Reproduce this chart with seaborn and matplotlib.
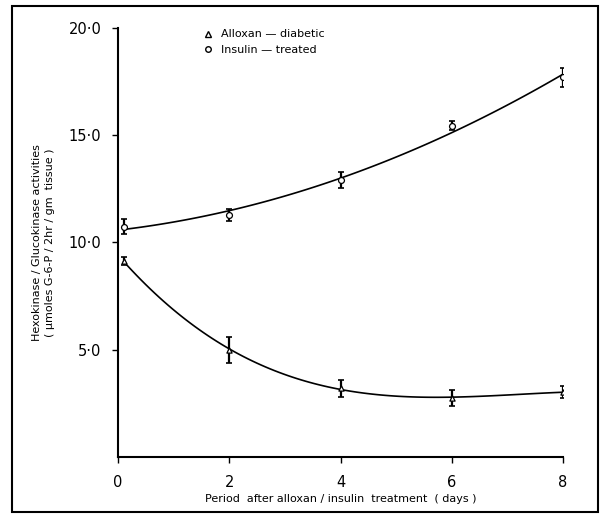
import numpy as np
import pandas as pd
import matplotlib
matplotlib.use("Agg")
import matplotlib.pyplot as plt
import seaborn as sns
from matplotlib.patches import Rectangle
from matplotlib.lines import Line2D

sns.set_theme(style="white")
plt.rcParams['font.family'] = ['DejaVu Sans']
plt.rcParams['text.color'] = 'black'
plt.rcParams['axes.labelcolor'] = 'black'
plt.rcParams['xtick.color'] = 'black'
plt.rcParams['ytick.color'] = 'black'

# ---- data ----
days = [0.1, 2, 4, 6, 8]
alloxan = [9.13, 5.0, 3.21, 2.75, 3.03]
alloxan_err = [0.2, 0.6, 0.4, 0.37, 0.3]
insulin = [10.73, 11.28, 12.9, 15.45, 17.7]
insulin_err = [0.35, 0.27, 0.37, 0.2, 0.45]
xticks = [0, 2, 4, 6, 8]
yticks = [5, 10, 15, 20]
ytick_labels = ["5·0", "10·0", "15·0", "20·0"]
series_names = ["Alloxan — diabetic", "Insulin — treated"]
fit_orders = [3, 2]

df = pd.DataFrame({"day": days * 2,
                   "value": alloxan + insulin,
                   "err": alloxan_err + insulin_err,
                   "group": [series_names[0]] * len(days) + [series_names[1]] * len(days)})

W, H = 604, 518
fig = plt.figure(figsize=(W / 100, H / 100), dpi=100)
ax = fig.add_axes([118 / W, 1 - 457 / H, (563 - 118) / W, (457 - 28) / H])

# fitted smooth curves
for name, order in zip(series_names, fit_orders):
    sub = df[df.group == name]
    sns.regplot(data=sub, x="day", y="value", order=order, ci=None, scatter=False,
                truncate=True, ax=ax, line_kws=dict(color="black", lw=1.2))

# error bars
for name in series_names:
    sub = df[df.group == name]
    ax.errorbar(sub.day, sub.value, yerr=sub.err, fmt="none", ecolor="black",
                elinewidth=1.6, capsize=2, capthick=1.2, zorder=3)

# markers
sns.scatterplot(data=df[df.group == series_names[0]], x="day", y="value", marker="^",
                s=14, facecolor="white", edgecolor="black", linewidth=0.9, ax=ax, zorder=4,
                legend=False)
sns.scatterplot(data=df[df.group == series_names[1]], x="day", y="value", marker="o",
                s=18, facecolor="white", edgecolor="black", linewidth=0.9, ax=ax, zorder=4,
                legend=False)

ax.set_xlim(0, 8)
ax.set_ylim(0, 20)
ax.set_xticks(xticks)
ax.set_xticklabels([str(t) for t in xticks])
ax.set_yticks(yticks)
ax.set_yticklabels(ytick_labels)
for s in ["top", "right"]:
    ax.spines[s].set_visible(False)
for s in ["left", "bottom"]:
    ax.spines[s].set_color("black")
    ax.spines[s].set_linewidth(1.5)
ax.tick_params(axis="both", which="major", direction="out", length=4, width=1,
               color="black", labelsize=10.5, pad=8, bottom=True, left=True)
ax.tick_params(axis="x", pad=9)

ax.set_xlabel("Period  after alloxan / insulin  treatment  ( days )", fontsize=8, labelpad=3)
ax.set_ylabel("Hexokinase / Glucokinase activities\n( μmoles G-6-P / 2hr / gm  tissue )",
              fontsize=8, labelpad=10, linespacing=1.3)

handles = [Line2D([], [], marker="^", ls="none", mfc="white", mec="black", ms=4),
           Line2D([], [], marker="o", ls="none", mfc="white", mec="black", ms=4)]
ax.legend(handles, series_names, loc="upper left", bbox_to_anchor=(0.17, 1.02),
          frameon=False, fontsize=8, handlelength=0.8, handletextpad=0.8,
          labelspacing=0.5)

# outer frame around the figure
fig.add_artist(Rectangle((12 / W, 1 - 512 / H), (598 - 12) / W, (512 - 6) / H,
                         transform=fig.transFigure, fill=False, edgecolor="black", lw=1.5))

fig.savefig("out.png", dpi=100)
